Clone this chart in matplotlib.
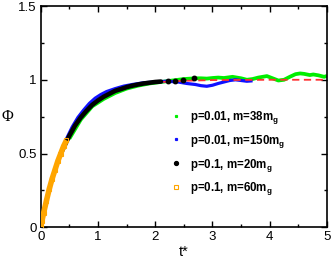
import matplotlib
matplotlib.use('Agg')
import matplotlib.pyplot as plt
from matplotlib.lines import Line2D
from matplotlib.ticker import MultipleLocator

plt.rcParams['font.family'] = ['Liberation Sans', 'DejaVu Sans']
plt.rcParams['mathtext.fontset'] = 'custom'
plt.rcParams['mathtext.rm'] = 'Liberation Sans'
plt.rcParams['mathtext.bf'] = 'Liberation Sans:bold'

# p=0.01, m=38mg (green)
t_green = [0.5, 0.7, 0.9, 1.1, 1.3, 1.5, 1.7, 1.9, 2.1, 2.3, 2.5, 2.7, 2.8, 2.9, 3.0,
           3.1, 3.2, 3.35, 3.5, 3.6, 3.7, 3.8, 3.95, 4.05, 4.15, 4.25, 4.35, 4.45,
           4.53, 4.6, 4.7, 4.76, 4.85, 4.95, 5.0]
phi_green = [0.60, 0.73, 0.82, 0.87, 0.91, 0.94, 0.96, 0.975, 0.985, 0.995, 1.005, 1.01,
             1.01, 1.008, 1.012, 1.015, 1.012, 1.02, 1.01, 1.0, 1.005, 1.015, 1.025, 1.01,
             0.995, 1.0, 1.02, 1.038, 1.043, 1.04, 1.032, 1.036, 1.03, 1.02, 1.026]

# p=0.01, m=150mg (blue)
t_blue = [0.45, 0.55, 0.65, 0.75, 0.85, 0.95, 1.05, 1.15, 1.3, 1.45, 1.6, 1.8, 2.0, 2.2,
          2.4, 2.55, 2.7, 2.8, 2.9, 3.0, 3.1, 3.2, 3.3, 3.4, 3.5, 3.6, 3.7]
phi_blue = [0.60, 0.68, 0.745, 0.795, 0.84, 0.875, 0.90, 0.92, 0.94, 0.957, 0.968, 0.98,
            0.985, 0.99, 0.985, 0.975, 0.968, 0.96, 0.956, 0.963, 0.975, 0.985, 0.995,
            1.0, 0.995, 0.99, 0.993]

# p=0.1, m=20mg (black)
t_black = [0.35, 0.5, 0.6, 0.7, 0.8, 0.9, 1.0, 1.1, 1.2, 1.3, 1.4, 1.5, 1.6, 1.7, 1.8,
           1.9, 2.0, 2.1]
phi_black = [0.50, 0.62, 0.69, 0.745, 0.79, 0.83, 0.86, 0.885, 0.905, 0.925, 0.937, 0.95,
             0.96, 0.968, 0.975, 0.98, 0.985, 0.988]
t_black_tail = [2.22, 2.34, 2.48, 2.67]
phi_black_tail = [0.99, 0.995, 1.0, 1.01]

# p=0.1, m=60mg (orange)
t_orange = [0.0, 0.01, 0.02, 0.05, 0.1, 0.15, 0.2, 0.25, 0.3, 0.35, 0.4, 0.45]
phi_orange = [0.0, 0.02, 0.04, 0.095, 0.18, 0.26, 0.33, 0.39, 0.45, 0.50, 0.55, 0.59]

# fit (red dashed)
t_fit = [0.0, 0.1, 0.25, 0.5, 0.75, 1.0, 1.25, 1.5, 1.75, 2.0, 2.5, 3.0, 4.0, 5.0]
phi_fit = [0.0, 0.18, 0.39, 0.63, 0.78, 0.865, 0.92, 0.95, 0.97, 0.982, 0.993, 0.998,
           1.0, 1.0]

labels = ['p=0.01, m=38m$_\\mathbf{g}$', 'p=0.01, m=150m$_\\mathbf{g}$',
          'p=0.1, m=20m$_\\mathbf{g}$', 'p=0.1, m=60m$_\\mathbf{g}$']

fig = plt.figure(figsize=(3.32, 2.59), dpi=100)
ax = fig.add_axes([0.1226, 0.1224, 0.8624, 0.8544])

ax.plot(t_green, phi_green, color='#00ee00', lw=2.7, solid_capstyle='butt', zorder=2)
ax.plot(t_blue, phi_blue, color='#1010ff', lw=2.3, solid_capstyle='butt', zorder=3)
ax.plot(t_fit, phi_fit, color='#ff3030', lw=1.3, ls=(0, (4, 2.5)), zorder=4)
ax.plot(t_black, phi_black, color='black', lw=3.3, solid_capstyle='round', zorder=5)
ax.plot(t_black_tail, phi_black_tail, 'o', color='black', ms=3.2, zorder=5)
ax.plot(t_orange, phi_orange, color='#ffa500', lw=4, solid_capstyle='butt', zorder=6)
ax.plot(t_orange, phi_orange, 's', mfc='none', mec='#ffa500', ms=3, mew=0.8, zorder=6)

ax.set_xlim(0, 5)
ax.set_ylim(0, 1.5)
ax.xaxis.set_minor_locator(MultipleLocator(0.5))
ax.yaxis.set_minor_locator(MultipleLocator(0.25))
ax.set_xticks([0, 1, 2, 3, 4, 5])
ax.set_xticklabels(['0', '1', '2', '3', '4', '5'])
ax.set_yticks([0, 0.5, 1, 1.5])
ax.set_yticklabels(['0', '0.5', '1', '1.5'])
ax.tick_params(which='both', direction='in', top=True, right=True, labelsize=9.5, pad=3)
ax.tick_params(which='major', length=4.5, width=1)
ax.tick_params(which='minor', length=2.3, width=1)
for s in ax.spines.values():
    s.set_linewidth(1.2)

ax.set_xlabel('t*', fontsize=10.5, labelpad=1)
ax.set_ylabel('\u03a6', fontsize=11.5, family='Liberation Serif', rotation=0,
              labelpad=8, va='center')

handles = [Line2D([], [], ls='none', marker='s', ms=1.3, color='#00ee00'),
           Line2D([], [], ls='none', marker='s', ms=1.3, color='#1010ff'),
           Line2D([], [], ls='none', marker='o', ms=2.8, color='black'),
           Line2D([], [], ls='none', marker='s', ms=3, mfc='none', mec='#ffa500', mew=0.8)]
ax.legend(handles, labels, loc='lower left', bbox_to_anchor=(0.4525, 0.135),
          frameon=False, borderpad=0, borderaxespad=0, handlelength=1,
          handletextpad=0.75, labelspacing=0.6,
          prop={'weight': 'bold', 'size': 8.3})

fig.savefig('out.png', dpi=100)
